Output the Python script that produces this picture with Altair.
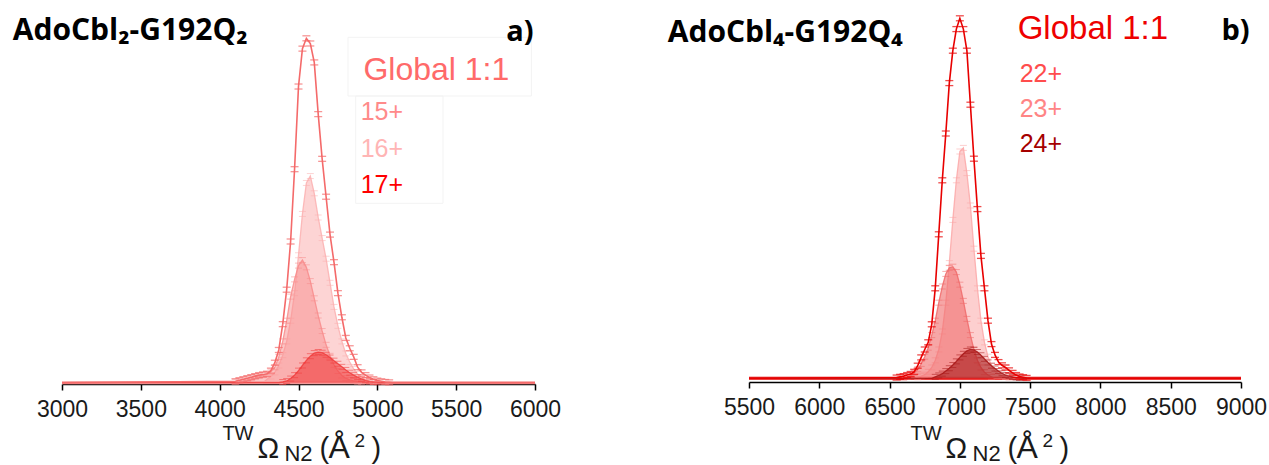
import altair as alt
import pandas as pd

# ---------------- Panel a) AdoCbl2-G192Q2 ----------------
a_x = [3000,
       4100, 4125, 4150, 4175, 4200, 4225, 4250, 4275,
       4300, 4325, 4350, 4375, 4400, 4425, 4450, 4475,
       4500, 4525, 4550, 4575, 4600, 4625, 4650, 4675,
       4700, 4725, 4750, 4775, 4800, 4825, 4850, 4875,
       4900, 4925, 4950, 4975, 5000, 5025, 5050, 5075, 5100,
       6000]
a_global = [0,
            0.004, 0.007, 0.010, 0.013, 0.016, 0.019, 0.022, 0.024,
            0.026, 0.035, 0.058, 0.095, 0.17, 0.27, 0.41, 0.62,
            0.86, 0.97, 1.00, 0.985, 0.93, 0.78, 0.65, 0.54,
            0.43, 0.35, 0.26, 0.19, 0.13, 0.10, 0.075, 0.045,
            0.030, 0.022, 0.015, 0.010, 0.006, 0.004, 0.002, 0.001, 0.0,
            0]
a_15 = [0,
        0.003, 0.006, 0.009, 0.012, 0.015, 0.018, 0.020, 0.022,
        0.024, 0.032, 0.045, 0.075, 0.12, 0.18, 0.25, 0.30,
        0.34, 0.356, 0.335, 0.295, 0.245, 0.195, 0.15, 0.11,
        0.078, 0.052, 0.034, 0.021, 0.013, 0.008, 0.005, 0.003,
        0.001, 0, 0, 0, 0, 0, 0, 0, 0,
        0]
a_16 = [0,
        0, 0, 0, 0, 0, 0, 0, 0,
        0.010, 0.018, 0.030, 0.05, 0.08, 0.12, 0.18, 0.26,
        0.37, 0.49, 0.58, 0.60, 0.55, 0.48, 0.42, 0.36,
        0.29, 0.22, 0.165, 0.12, 0.085, 0.06, 0.04, 0.025,
        0.015, 0.008, 0.004, 0.002, 0, 0, 0, 0, 0,
        0]
a_17 = [0,
        0, 0, 0, 0, 0, 0, 0, 0,
        0, 0, 0, 0, 0.002, 0.005, 0.012, 0.022,
        0.035, 0.05, 0.065, 0.077, 0.086, 0.089, 0.087, 0.081,
        0.073, 0.064, 0.055, 0.046, 0.037, 0.029, 0.022, 0.016,
        0.011, 0.007, 0.004, 0.002, 0.001, 0, 0, 0, 0,
        0]
a_ticks = [3000, 3500, 4000, 4500, 5000, 5500, 6000]

# ---------------- Panel b) AdoCbl4-G192Q4 ----------------
b_x = [5500,
       6550, 6575, 6600, 6625, 6650, 6675, 6700, 6725,
       6750, 6775, 6800, 6825, 6850, 6875, 6900, 6925,
       6950, 6975, 7000, 7025, 7050, 7075, 7100, 7125,
       7150, 7175, 7200, 7225, 7250, 7275, 7300, 7325,
       7350, 7375, 7400, 7425, 7450, 7475, 7500,
       9000]
b_global = [0,
            0.002, 0.004, 0.006, 0.009, 0.012, 0.018, 0.035, 0.058,
            0.08, 0.10, 0.15, 0.25, 0.40, 0.55, 0.68, 0.82,
            0.91, 0.97, 1.00, 0.97, 0.91, 0.76, 0.61, 0.47,
            0.34, 0.25, 0.16, 0.095, 0.065, 0.045, 0.036, 0.030,
            0.022, 0.015, 0.009, 0.005, 0.003, 0.001, 0.0,
            0]
b_22 = [0,
        0, 0, 0.002, 0.004, 0.008, 0.015, 0.025, 0.04,
        0.06, 0.085, 0.12, 0.16, 0.21, 0.255, 0.29, 0.307,
        0.31, 0.295, 0.26, 0.215, 0.165, 0.12, 0.08, 0.05,
        0.03, 0.017, 0.009, 0.004, 0, 0, 0, 0,
        0, 0, 0, 0, 0, 0, 0,
        0]
b_23 = [0,
        0, 0, 0, 0, 0, 0, 0.003, 0.006,
        0.010, 0.018, 0.03, 0.05, 0.08, 0.13, 0.21, 0.32,
        0.44, 0.55, 0.63, 0.64, 0.57, 0.48, 0.36, 0.25,
        0.16, 0.10, 0.06, 0.035, 0.02, 0.012, 0.007, 0.004,
        0.002, 0, 0, 0, 0, 0, 0,
        0]
b_24 = [0,
        0, 0, 0, 0, 0, 0, 0, 0,
        0, 0, 0, 0.004, 0.008, 0.013, 0.02, 0.028,
        0.037, 0.047, 0.058, 0.068, 0.076, 0.08, 0.079, 0.073,
        0.064, 0.054, 0.044, 0.035, 0.027, 0.02, 0.014, 0.009,
        0.006, 0.004, 0.002, 0.001, 0, 0, 0,
        0]
b_ticks = [5500, 6000, 6500, 7000, 7500, 8000, 8500, 9000]

ONE = pd.DataFrame({"k": [0]})
TICK_FONT = "Liberation Sans"
TITLE_FONT = "Open Sans"


def txt(text, x, y, size, color, font=TICK_FONT, weight="normal", align="left"):
    return alt.Chart(ONE).mark_text(
        text=text, align=align, baseline="alphabetic", font=font,
        fontSize=size, fontWeight=weight, color=color
    ).encode(x=alt.value(x), y=alt.value(y))


def box(x1, x2, y1, y2):
    return alt.Chart(ONE).mark_rect(
        fill="white", fillOpacity=0, stroke="#f3f3f3", strokeWidth=1
    ).encode(x=alt.value(x1), x2=alt.value(x2), y=alt.value(y1), y2=alt.value(y2))


def panel(xs, series, gvals, gcolor, basecolor, xdom, xticks, ydom, width, height, extras):
    xenc = alt.X("x:Q", scale=alt.Scale(domain=xdom, nice=False, zero=False),
                 axis=alt.Axis(values=xticks, format="d", title=None, grid=False,
                               labelFont=TICK_FONT, labelFontSize=23, labelColor="#1a1a1a",
                               labelPadding=8, labelFlush=False, labelOverlap=False,
                               domainColor="#000000", domainWidth=1.5,
                               tickColor="#000000", tickSize=6, tickWidth=1.5))
    yenc = alt.Y("y:Q", scale=alt.Scale(domain=ydom, nice=False, zero=False), axis=None)
    layers = []
    # baseline band of the overlapping traces
    bdf = pd.DataFrame({"x": [xdom[0]], "x2": [xdom[1]], "y": [0]})
    layers.append(alt.Chart(bdf).mark_rule(color=basecolor, strokeWidth=3).encode(
        x=xenc, x2="x2:Q", y=yenc))
    for vals, color, op in series:
        df = pd.DataFrame({"x": xs, "y": vals})
        base = alt.Chart(df).encode(x=xenc, y=yenc)
        layers.append(base.mark_area(color=color, opacity=op).encode(y2=alt.datum(0)))
        layers.append(base.mark_line(color=color, strokeWidth=1.3, opacity=0.85))
        for off in (-2.5, 2.5):
            layers.append(base.transform_filter("datum.y > 0").mark_tick(
                orient="horizontal", color=color, size=7, thickness=1, opacity=0.55, yOffset=off))
    gdf = pd.DataFrame({"x": xs, "y": gvals})
    gbase = alt.Chart(gdf).encode(x=xenc, y=yenc)
    layers.append(gbase.mark_line(color=gcolor, strokeWidth=1.6))
    for off in (-2.5, 2.5):
        layers.append(gbase.transform_filter("datum.y > 0").mark_tick(
            orient="horizontal", color=gcolor, size=8, thickness=1.3, yOffset=off))
    layers.extend(extras)
    return alt.layer(*layers).properties(width=width, height=height)


def axis_title(x0):
    c = "#1a1a1a"
    return [
        txt("TW", x0, 432, 20, c),
        txt("\u03a9", x0 + 35, 450, 29, c),
        txt("N2", x0 + 62, 453, 22, c),
        txt("(", x0 + 97, 450, 29, c),
        txt("\u00c5", x0 + 106, 450, 32, c),
        txt("2", x0 + 132, 438.7, 19, c),
        txt(")", x0 + 149, 450, 29, c),
    ]


a_extras = [
    box(286, 469.4, 29.3, 88),
    box(293.7, 381, 88, 195.3),
    txt("AdoCbl\u2082-G192Q\u2082", -49.3, 32, 30, "#000000", font=TITLE_FONT, weight="bold"),
    txt("a)", 471.7, 32.5, 29, "#000000", font=TITLE_FONT, weight="bold", align="right"),
    txt("Global 1:1", 301.4, 72, 32, "#FF6A6A"),
    txt("15+", 298.7, 112, 25, "#FF8A8A"),
    txt("16+", 298.7, 148.7, 25, "#FFB5B5"),
    txt("17+", 298.7, 184.7, 25, "#FF0000"),
] + axis_title(160.4)

b_extras = [
    txt("AdoCbl\u2084-G192Q\u2084", -81.3, 34, 30, "#000000", font=TITLE_FONT, weight="bold"),
    txt("b)", 500.7, 32, 29, "#000000", font=TITLE_FONT, weight="bold", align="right"),
    txt("Global 1:1", 268.7, 31.3, 33, "#EE0000"),
    txt("22+", 270.7, 73.7, 25, "#FF4D4D"),
    txt("23+", 270.7, 108.7, 25, "#FF8585"),
    txt("24+", 270.7, 143.7, 25, "#A50000"),
] + axis_title(161.5)

left = panel(
    a_x,
    [(a_16, "#FBB0B0", 0.55), (a_15, "#F88C8C", 0.5), (a_17, "#F03C3C", 0.6)],
    a_global, "#F46A6A", "#F59A9A", [3000, 6000], a_ticks, [-0.0038, 1.088], 473, 376, a_extras)

right = panel(
    b_x,
    [(b_23, "#FBA8A8", 0.55), (b_22, "#F06A6A", 0.6), (b_24, "#A81818", 0.6)],
    b_global, "#E80000", "#E80000", [5500, 9000], b_ticks, [-0.0103, 1.0286], 492, 374, b_extras)

chart = alt.hconcat(left, right, spacing=106).configure_view(stroke=None).properties(
    padding={"left": 12, "top": 8, "right": 0, "bottom": 0},
    background="white",
)

chart.save("out.html", embed_options={"renderer": "svg", "actions": False})
